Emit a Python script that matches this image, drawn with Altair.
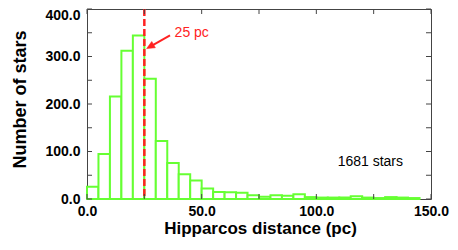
import altair as alt
import pandas as pd

# ---- data ----
bin_start = list(range(0, 145, 5))
counts = [26, 95, 216, 312, 344, 253, 122, 76, 52, 39, 22, 15, 14, 13, 8,
          5, 8, 7, 10, 4, 3, 3, 3, 6, 3, 2, 4, 3, 2]
bin_width = 5
cut_distance = [25]
y_tick_values = list(range(0, 401, 50))
x_tick_values = list(range(0, 151, 25))
y_label_values = [0, 100, 200, 300, 400]
x_label_values = [0, 50, 100, 150]

# annotation anchor points (data coordinates)
arrow_tail = (36.2, 344.5)
arrow_base = (28.7, 324.0)
arrow_tip = (26.0, 316.6)
cut_label = (38.2, 341.0, "25 pc")
count_label = (109.3, 68.7, "1681 stars")

FONT = "Liberation Sans"
GREEN = "#66ff33"
RED = "#ff2222"
FRAME = "#444444"

W, H = 344, 190

hist = pd.DataFrame({
    "x0": bin_start,
    "x1": [b + bin_width for b in bin_start],
    "n": counts,
})

xscale = alt.Scale(domain=[0, 150], nice=False, zero=False)
yscale = alt.Scale(domain=[0, 400], nice=False)

xaxis = alt.Axis(
    title="Hipparcos distance (pc)", values=x_label_values, format=".1f",
    ticks=False, domain=False, grid=False, labelOverlap=False, labelFlush=False,
    labelFont=FONT, labelFontSize=14, labelFontWeight="bold", labelColor="black",
    labelPadding=5,
    titleFont=FONT, titleFontSize=17, titleFontWeight="bold", titleColor="black",
    titleX=W / 2 + 1, titleY=34, titleBaseline="alphabetic")
yaxis = alt.Axis(
    title="Number of stars", values=y_label_values, format=".1f",
    ticks=False, domain=False, grid=False, labelOverlap=False, labelFlush=False,
    labelFont=FONT, labelFontSize=14, labelFontWeight="bold", labelColor="black",
    labelPadding=7,
    labelOffset={"condition": {"test": "datum.value == 400", "value": 6}, "value": 0},
    titleFont=FONT, titleFontSize=18, titleFontWeight="bold", titleColor="black",
    titleX=-62, titleY=90, titleBaseline="alphabetic")


def X(f):
    return alt.X(f, scale=xscale, axis=xaxis)


def Y(f):
    return alt.Y(f, scale=yscale, axis=yaxis)


bars = alt.Chart(hist).mark_bar(
    fill="white", stroke=GREEN, strokeWidth=2
).encode(x=X("x0:Q"), x2="x1:Q", y=Y("n:Q"), y2=alt.datum(0))

ytick_df = pd.DataFrame({"v": y_tick_values})
xtick_df = pd.DataFrame({"v": x_tick_values})

yt_left = alt.Chart(ytick_df).mark_rule(color=FRAME, strokeWidth=1).encode(
    y=Y("v:Q"), x=alt.value(0), x2=alt.value(5))
yt_right = alt.Chart(ytick_df).mark_rule(color=FRAME, strokeWidth=1).encode(
    y=Y("v:Q"), x=alt.value(W), x2=alt.value(W - 5))
xt_bottom = alt.Chart(xtick_df).mark_rule(color=FRAME, strokeWidth=1).encode(
    x=X("v:Q"), y=alt.value(H), y2=alt.value(H - 5))
xt_top = alt.Chart(xtick_df).mark_rule(color=FRAME, strokeWidth=1).encode(
    x=X("v:Q"), y=alt.value(0), y2=alt.value(5))

cut = alt.Chart(pd.DataFrame({"d": cut_distance})).mark_rule(
    color=RED, strokeWidth=2.5, strokeDash=[7, 3]
).encode(x=X("d:Q"), y=alt.value(0), y2=alt.value(H))

arrow_line = alt.Chart(pd.DataFrame({
    "x": [arrow_tail[0]], "y": [arrow_tail[1]],
    "x2": [arrow_base[0]], "y2": [arrow_base[1]]})).mark_rule(
    color=RED, strokeWidth=2
).encode(x=X("x:Q"), y=Y("y:Q"), x2="x2:Q", y2="y2:Q")

arrow_head = alt.Chart(pd.DataFrame({"x": [arrow_tip[0]], "y": [arrow_tip[1]]})).mark_point(
    shape="M0,0 L-0.45,1 L0.45,1 Z", size=256, angle=240, filled=True,
    fill=RED, stroke=RED, strokeWidth=0.5, opacity=1
).encode(x=X("x:Q"), y=Y("y:Q"))

labels_df = pd.DataFrame({
    "x": [cut_label[0], count_label[0]],
    "y": [cut_label[1], count_label[1]],
    "t": [cut_label[2], count_label[2]],
    "c": [RED, "black"],
})
labels = alt.Chart(labels_df).mark_text(
    align="left", baseline="alphabetic", font=FONT, fontSize=14
).encode(x=X("x:Q"), y=Y("y:Q"), text="t:N", color=alt.Color("c:N", scale=None))

chart = alt.layer(
    bars, cut, yt_left, yt_right, xt_bottom, xt_top, arrow_line, arrow_head, labels
).properties(
    width=W, height=H,
    autosize=alt.AutoSizeParams(type="none"),
    padding={"left": 79, "top": 1, "right": 19, "bottom": 43},
    background="white",
).configure_view(stroke=FRAME, strokeWidth=1)

chart.save("out.html", embed_options={"renderer": "svg", "actions": False})
